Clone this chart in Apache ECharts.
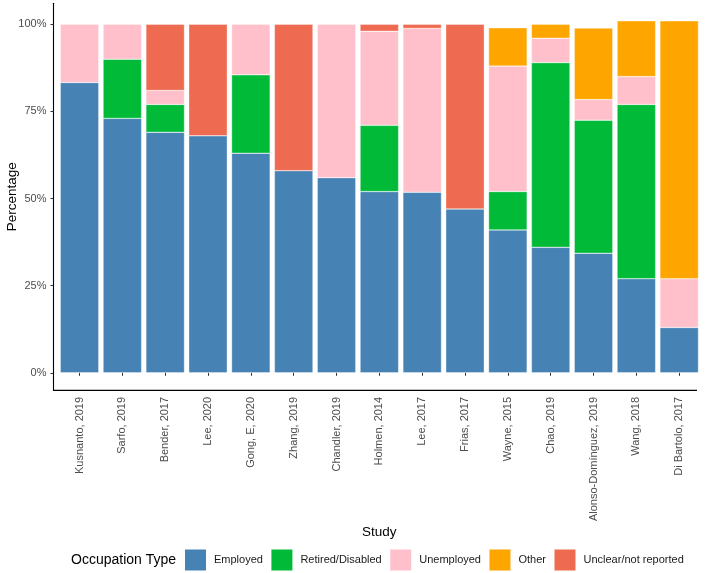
<!DOCTYPE html>
<html>
<head>
<meta charset="utf-8">
<script src="https://cdn.jsdelivr.net/npm/echarts@6/dist/echarts.min.js"></script>
<style>
  html, body { margin: 0; padding: 0; background: #fff; }
  #main { width: 708px; height: 573px; }
</style>
</head>
<body>
<div id="main"></div>
<script>
const studies = ['Kusnanto, 2019', 'Sarfo, 2019', 'Bender, 2017', 'Lee, 2020', 'Gong, E, 2020', 'Zhang, 2019',
  'Chandler, 2019', 'Holmen, 2014', 'Lee, 2017', 'Frias, 2017', 'Wayne, 2015', 'Chao, 2019',
  'Alonso-Domínguez, 2019', 'Wang, 2018', 'Di Bartolo, 2017'];

const employed = [83.3, 73, 69, 68, 63, 58, 56, 52, 51.8, 47, 41, 36, 34.3, 27, 13];
const retired = [0, 17, 8, 0, 22.5, 0, 0, 19, 0, 0, 11, 53, 38.2, 50, 0];
const unemployed = [16.7, 10, 4, 0, 14.5, 0, 44, 27, 47, 0, 36, 7, 5.9, 8, 14];
const other = [0, 0, 0, 0, 0, 0, 0, 0, 0, 0, 11, 4, 20.5, 16, 74];
const unclear = [0, 0, 19, 32, 0, 42, 0, 2, 1.2, 53, 0, 0, 0, 0, 0];

const yTicks = [0, 25, 50, 75, 100];

const FONT = '"Liberation Sans", Arial, sans-serif';

// series: name, values, colour
const groups = [
  ['Employed', employed, '#4682B4'],
  ['Retired/Disabled', retired, '#00BA38'],
  ['Unemployed', unemployed, '#FFC0CB'],
  ['Other', other, '#FFA500'],
  ['Unclear/not reported', unclear, '#EE6A50'],
];

const chart = echarts.init(document.getElementById('main'), null, { renderer: 'canvas' });

const option = {
  animation: false,
  textStyle: { fontFamily: FONT },
  grid: { left: 58.1, right: 7.4, top: 3.2, bottom: 182.6, containLabel: false, outerBoundsMode: 'none' },
  title: {
    text: 'Occupation Type',
    left: 71,
    top: 553,
    padding: 0,
    textStyle: { fontFamily: FONT, fontSize: 14, fontWeight: 'normal', color: '#000' },
  },
  legend: {
    left: 185,
    top: 549.5,
    padding: 0,
    itemWidth: 21,
    itemHeight: 21,
    itemGap: 8.5,
    icon: 'rect',
    itemStyle: { borderWidth: 0 },
    textStyle: { fontFamily: FONT, fontSize: 11, color: '#1a1a1a', padding: [0, 0, 0, 3] },
    data: groups.map((g) => g[0]),
  },
  xAxis: {
    type: 'category',
    data: studies,
    name: 'Study',
    nameLocation: 'middle',
    nameGap: 135,
    nameMoveOverlap: false,
    nameTextStyle: { fontFamily: FONT, fontSize: 13.5, color: '#000' },
    axisLine: { show: false },
    axisTick: { show: true, alignWithLabel: true, length: 3, lineStyle: { color: '#333', width: 1 } },
    axisLabel: { rotate: 90, fontSize: 11, color: '#4D4D4D', margin: 6.5, fontFamily: FONT, interval: 0 },
  },
  yAxis: {
    type: 'value',
    min: -5.05,
    max: 106.05,
    offset: 4.6,
    name: 'Percentage',
    nameLocation: 'middle',
    nameGap: 34,
    nameMoveOverlap: false,
    nameTextStyle: { fontFamily: FONT, fontSize: 13.5, color: '#000' },
    splitLine: { show: false },
    axisLine: { show: true, lineStyle: { color: '#000', width: 1.1 } },
    axisTick: { show: true, length: 3, customValues: yTicks, lineStyle: { color: '#333', width: 1 } },
    axisLabel: {
      customValues: yTicks,
      formatter: (v) => v + '%',
      fontSize: 11,
      color: '#4D4D4D',
      margin: 7,
      fontFamily: FONT,
    },
  },
  graphic: [
    {
      type: 'line',
      shape: { x1: 53.5, y1: 390.4, x2: 697, y2: 390.4 },
      style: { stroke: '#000', lineWidth: 1.1 },
      z: 10,
    },
  ],
  series: groups.map(([name, values, color]) => ({
    name,
    type: 'bar',
    stack: 'total',
    barWidth: '90%',
    itemStyle: { color, borderColor: 'rgba(255,255,255,0.7)', borderWidth: 0.5 },
    data: values.map((v) => (v === 0 ? null : v)),
  })),
};

chart.setOption(option);
</script>
</body>
</html>
